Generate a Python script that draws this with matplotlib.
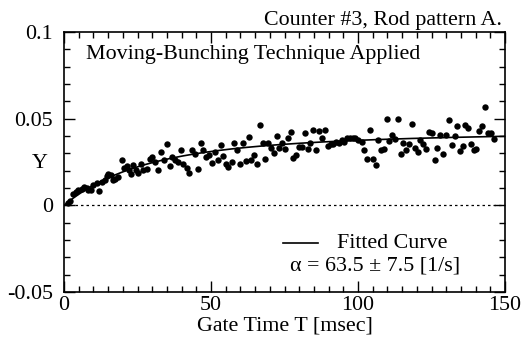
import numpy as np
import matplotlib
matplotlib.use("Agg")
import matplotlib.pyplot as plt
from matplotlib.ticker import MultipleLocator

plt.rcParams["font.family"] = ["Liberation Serif", "DejaVu Serif"]

FS = 15.8

# Measured Y values versus gate time T [msec]
gate_time = [
    1.2, 2.0, 3.2, 4.0, 4.9, 6.0, 6.9, 7.7, 8.3, 9.2, 10.0, 11.1, 11.9, 12.8, 13.9,
    14.5, 15.1, 16.0, 16.8, 17.3, 18.3, 19.6, 20.5, 21.3, 22.1, 22.8, 23.6, 24.4,
    25.3, 26.2, 27.0, 28.1, 29.3, 30.0, 31.0, 32.1, 33.0, 34.1, 34.9, 36.1, 36.8,
    37.8, 38.7, 39.8, 40.6, 41.7, 42.5, 43.4, 44.6, 45.5, 46.6, 47.4, 48.2, 49.3,
    50.2, 51.4, 52.5, 53.3, 54.2, 55.1, 55.9, 57.0, 57.9, 59.0, 59.9, 60.8, 61.8,
    62.8, 63.7, 64.7, 65.7, 66.7, 67.6, 68.5, 69.5, 70.4, 71.4, 72.3, 73.2, 74.1,
    75.2, 76.1, 77.1, 78.0, 78.9, 79.9, 80.8, 81.9, 82.9, 83.8, 84.8, 85.7, 86.7,
    87.8, 88.7, 89.7, 90.7, 91.6, 92.5, 93.6, 94.4, 95.4, 96.3, 97.3, 98.2, 99.1,
    100.1, 101.2, 102.0, 103.2, 104.1, 105.0, 106.0, 106.9, 107.8, 108.8, 109.8,
    110.7, 111.7, 112.7, 113.6, 114.5, 115.4, 116.3, 117.3, 118.4, 119.3, 120.3,
    121.2, 122.2, 123.2, 124.1, 125.0, 126.1, 127.0, 127.9, 128.9, 129.9, 130.8,
    131.9, 132.9, 133.8, 134.7, 135.6, 136.5, 137.5, 138.5, 139.4, 140.3, 141.3,
    142.3, 143.3, 144.2, 145.2, 146.1,
]
y_measured = [
    0.0013, 0.0023, 0.0067, 0.0077, 0.0087, 0.0096, 0.0106, 0.0100, 0.0090, 0.0090,
    0.0115, 0.0129, 0.0081, 0.0135, 0.0144, 0.0167, 0.0183, 0.0173, 0.0148, 0.0154,
    0.0163, 0.0260, 0.0217, 0.0225, 0.0202, 0.0179, 0.0231, 0.0202, 0.0187, 0.0237,
    0.0202, 0.0212, 0.0269, 0.0279, 0.0250, 0.0202, 0.0308, 0.0264, 0.0352, 0.0225,
    0.0279, 0.0260, 0.0250, 0.0321, 0.0237, 0.0217, 0.0187, 0.0317, 0.0298, 0.0208,
    0.0360, 0.0317, 0.0279, 0.0289, 0.0244, 0.0310, 0.0264, 0.0346, 0.0283, 0.0237,
    0.0221, 0.0250, 0.0360, 0.0321, 0.0240, 0.0362, 0.0256, 0.0394, 0.0260, 0.0289,
    0.0237, 0.0465, 0.0360, 0.0269, 0.0360, 0.0333, 0.0302, 0.0400, 0.0333, 0.0360,
    0.0327, 0.0389, 0.0423, 0.0273, 0.0289, 0.0337, 0.0337, 0.0419, 0.0327, 0.0362,
    0.0433, 0.0317, 0.0429, 0.0390, 0.0437, 0.0342, 0.0352, 0.0356, 0.0365, 0.0360,
    0.0375, 0.0365, 0.0390, 0.0390, 0.0390, 0.0389, 0.0375, 0.0365, 0.0317, 0.0269,
    0.0433, 0.0269, 0.0231, 0.0379, 0.0317, 0.0327, 0.0496, 0.0371, 0.0404, 0.0385,
    0.0500, 0.0294, 0.0360, 0.0321, 0.0352, 0.0467, 0.0333, 0.0308, 0.0379, 0.0356,
    0.0327, 0.0423, 0.0417, 0.0264, 0.0333, 0.0408, 0.0294, 0.0408, 0.0494, 0.0346,
    0.0398, 0.0458, 0.0314, 0.0340, 0.0465, 0.0446, 0.0352, 0.0321, 0.0327, 0.0429,
    0.0458, 0.0567, 0.0417, 0.0417, 0.0385,
]

# Fit parameters: prompt-neutron decay constant and saturation value
alpha = 63.5       # [1/s]
alpha_err = 7.5    # [1/s]
y_inf = 0.0445

t_fit = np.linspace(0.05, 150, 600)
at = alpha * t_fit * 1e-3
y_fit = y_inf * (1.0 - (1.0 - np.exp(-at)) / at)

fig = plt.figure(figsize=(5.29, 3.45), dpi=100)
ax = fig.add_axes([64 / 529, 1 - 292 / 345, 441 / 529, 260 / 345])

ax.plot(gate_time, y_measured, "o", color="black", ms=4.6, mew=0, zorder=3)
ax.plot(t_fit, y_fit, "-", color="black", lw=1.2, zorder=2)
ax.axhline(0, color="black", lw=0.9, ls=(0, (2.0, 2.4)), zorder=1)

ax.set_xlim(0, 150)
ax.set_ylim(-0.05, 0.1)
ax.xaxis.set_minor_locator(MultipleLocator(5))
ax.yaxis.set_minor_locator(MultipleLocator(0.01))
ax.set_xticks([0, 50, 100, 150])
ax.set_xticklabels(["0", "50", "100", "150"])
ax.set_yticks([-0.05, 0, 0.05, 0.1])
ax.set_yticklabels(["-0.05", "0", "0.05", "0.1"])
ax.tick_params(which="both", direction="in", top=True, right=True,
               labelsize=FS, width=1.0, color="black")
ax.tick_params(which="major", length=8, pad=3)
ax.tick_params(axis="y", which="major", pad=8)
ax.tick_params(which="minor", length=4)
for sp in ax.spines.values():
    sp.set_linewidth(1.2)

ax.set_xlabel("Gate Time T [msec]", fontsize=FS, labelpad=1)
ax.text(-0.054, 0.496, "Y", transform=ax.transAxes, fontsize=FS,
        ha="center", va="center")

ax.text(0.05, 0.912, "Moving-Bunching Technique Applied", transform=ax.transAxes,
        fontsize=FS, ha="left", va="center")
fig.text(0.949, 0.942, "Counter #3, Rod pattern A.", fontsize=FS,
         ha="right", va="center")

ax.plot([0.497, 0.576], [0.188, 0.188], color="black", lw=1.2,
        transform=ax.transAxes)
ax.text(0.618, 0.188, "Fitted Curve", transform=ax.transAxes, fontsize=FS,
        ha="left", va="center")
ax.text(0.512, 0.10, "\u03b1 = %.1f \u00b1 %.1f [1/s]" % (alpha, alpha_err),
        transform=ax.transAxes, fontsize=FS, ha="left", va="center")

fig.savefig("out.png", dpi=100)
